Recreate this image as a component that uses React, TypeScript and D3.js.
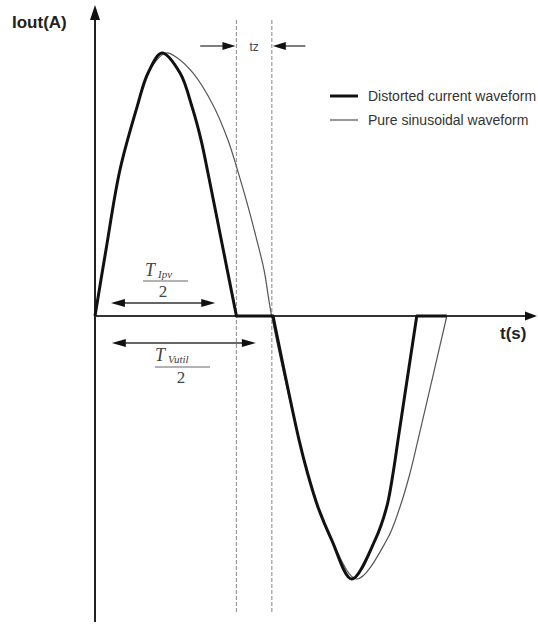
import React, { useRef, useEffect } from 'react';
import * as d3 from 'd3';

// time in ms, current normalised to the peak value
const posLobeT = [0, 0.62, 1.41, 2.38, 3.0, 3.79, 4.81, 5.49, 6.0, 6.39, 7.2, 8.0];
const posLobeI = [0, 0.251, 0.555, 0.795, 0.924, 1.0, 0.924, 0.795, 0.669, 0.544, 0.27, 0];
const negLobeT = [10.07, 11.54, 12.02, 12.61, 13.39, 14.52, 15.84, 16.5, 16.86, 17.14, 18.2];
const negLobeI = [0, -0.471, -0.597, -0.726, -0.852, -1.0, -0.852, -0.726, -0.597, -0.471, 0];
const deadZoneEnd = 19.9;

const sineT = [0, 0.62, 1.41, 2.38, 3.0, 4.02, 4.58, 5.54, 6.73, 7.52, 8.09, 8.6, 9.11, 9.56, 9.99,
    11.54, 12.02, 12.61, 13.39, 14.8, 16.5, 17.25, 17.82, 18.27, 19.9];
const sineI = [0, 0.251, 0.555, 0.795, 0.924, 1.0, 0.985, 0.924, 0.795, 0.669, 0.548, 0.43, 0.3, 0.175, 0,
    -0.471, -0.597, -0.726, -0.852, -1.0, -0.852, -0.726, -0.597, -0.471, 0];

const legendLabels = ['Distorted current waveform', 'Pure sinusoidal waveform'];

// annotation times (ms)
const tIpvHalf = 8.0;
const tVutilHalf = 10.0;
const ipvArrow = [0.9, 6.8];
const vutilArrow = [0.95, 9.1];
const tzArrowStarts = [5.95, 11.9];

const WaveformChart: React.FC = () => {
    const svgRef = useRef<SVGSVGElement | null>(null);
    const width = 538;
    const height = 634;

    useEffect(() => {
        if (!svgRef.current) return;
        const svg = d3.select(svgRef.current);
        svg.selectAll('*').remove();

        const x = d3.scaleLinear().domain([0, 25]).range([95, 537]);
        const y = d3.scaleLinear().domain([-1, 1]).range([579, 53]);

        const head = (tx: number, ty: number, dir: 'l' | 'r' | 'u', len = 12, hw = 4, fill = '#111') => {
            let pts: [number, number][];
            if (dir === 'r') pts = [[tx, ty], [tx - len, ty - hw], [tx - len, ty + hw]];
            else if (dir === 'l') pts = [[tx, ty], [tx + len, ty - hw], [tx + len, ty + hw]];
            else pts = [[tx, ty], [tx - hw, ty + len], [tx + hw, ty + len]];
            svg.append('polygon')
                .attr('points', pts.map((p) => p.join(',')).join(' '))
                .attr('fill', fill);
        };

        // dashed markers
        [tIpvHalf, tVutilHalf].forEach((t) => {
            svg.append('line')
                .attr('x1', x(t)).attr('x2', x(t))
                .attr('y1', 20).attr('y2', 614)
                .attr('stroke', '#999')
                .attr('stroke-width', 1.2)
                .attr('stroke-dasharray', '4,2');
        });

        // axes
        svg.append('line')
            .attr('x1', x(0)).attr('x2', x(0))
            .attr('y1', 622).attr('y2', 14)
            .attr('stroke', '#222').attr('stroke-width', 2);
        head(x(0), 5, 'u', 15, 5, '#111');
        svg.append('line')
            .attr('x1', x(0)).attr('x2', 528)
            .attr('y1', y(0)).attr('y2', y(0))
            .attr('stroke', '#333').attr('stroke-width', 2);
        head(537, y(0), 'r', 12, 4.5, '#111');

        const line = d3.line<[number, number]>()
            .x((d) => x(d[0]))
            .y((d) => y(d[1]))
            .curve(d3.curveCatmullRom.alpha(0.5));

        // pure sine
        const sinePts = sineT.map((t, i) => [t, sineI[i]] as [number, number]);
        svg.append('path')
            .attr('d', line(sinePts)!)
            .attr('fill', 'none')
            .attr('stroke', '#555')
            .attr('stroke-width', 1.2);

        // distorted: lobes joined by dead-zone flats
        const pos = posLobeT.map((t, i) => [t, posLobeI[i]] as [number, number]);
        const neg = negLobeT.map((t, i) => [t, negLobeI[i]] as [number, number]);
        const dPath = line(pos)! + 'L' + line(neg)!.slice(1) + `L${x(deadZoneEnd)},${y(0)}`;
        svg.append('path')
            .attr('d', dPath)
            .attr('fill', 'none')
            .attr('stroke', '#111')
            .attr('stroke-width', 3)
            .attr('stroke-linejoin', 'round');

        // tz arrows
        const tzY = 46;
        svg.append('line')
            .attr('x1', x(tzArrowStarts[0])).attr('x2', x(tIpvHalf) - 10)
            .attr('y1', tzY).attr('y2', tzY)
            .attr('stroke', '#555').attr('stroke-width', 1.5);
        head(x(tIpvHalf) - 1, tzY, 'r', 13, 4);
        svg.append('line')
            .attr('x1', x(tzArrowStarts[1])).attr('x2', x(tVutilHalf) + 10)
            .attr('y1', tzY).attr('y2', tzY)
            .attr('stroke', '#555').attr('stroke-width', 1.5);
        head(x(tVutilHalf) + 1, tzY, 'l', 13, 4);
        svg.append('text')
            .attr('x', (x(tIpvHalf) + x(tVutilHalf)) / 2)
            .attr('y', 51)
            .attr('text-anchor', 'middle')
            .attr('font-family', 'Liberation Sans, Arial, sans-serif')
            .attr('font-size', 12)
            .attr('fill', '#444')
            .text('tz');

        // double arrows
        const dbl = (a: number, b: number, yy: number) => {
            svg.append('line')
                .attr('x1', x(a) + 8).attr('x2', x(b) - 8)
                .attr('y1', yy).attr('y2', yy)
                .attr('stroke', '#333').attr('stroke-width', 1.5);
            head(x(a), yy, 'l', 14, 4);
            head(x(b), yy, 'r', 14, 4);
        };
        dbl(ipvArrow[0], ipvArrow[1], 303);
        dbl(vutilArrow[0], vutilArrow[1], 343);

        // fraction labels
        const frac = (tx: number, ty: number, sub: string, barX1: number, barX2: number, barY: number, twoX: number) => {
            const tt = svg.append('text')
                .attr('x', tx).attr('y', ty)
                .attr('font-family', 'Liberation Serif, Times New Roman, serif')
                .attr('font-style', 'italic')
                .attr('fill', '#444');
            tt.append('tspan').attr('font-size', 18).text('T');
            tt.append('tspan').attr('font-size', 11).attr('dx', 3).attr('dy', 2).text(sub);
            svg.append('line')
                .attr('x1', barX1).attr('x2', barX2)
                .attr('y1', barY).attr('y2', barY)
                .attr('stroke', '#666').attr('stroke-width', 1);
            svg.append('text')
                .attr('x', twoX).attr('y', barY + 16)
                .attr('text-anchor', 'middle')
                .attr('font-family', 'Liberation Serif, Times New Roman, serif')
                .attr('font-size', 17)
                .attr('fill', '#444')
                .text('2');
        };
        frac(145, 276, 'Ipv', 143, 188, 281, 163);
        frac(155, 361, 'Vutil', 155, 210, 367, 181);

        // axis titles
        svg.append('text')
            .attr('x', 12).attr('y', 28)
            .attr('font-family', 'Liberation Sans, Arial, sans-serif')
            .attr('font-weight', 'bold')
            .attr('font-size', 17)
            .attr('fill', '#222')
            .text('Iout(A)');
        svg.append('text')
            .attr('x', 500).attr('y', 339)
            .attr('font-family', 'Liberation Sans, Arial, sans-serif')
            .attr('font-weight', 'bold')
            .attr('font-size', 17)
            .attr('fill', '#222')
            .text('t(s)');

        // legend
        const legend = svg.append('g');
        legendLabels.forEach((lbl, i) => {
            const ly = 96 + i * 24;
            legend.append('line')
                .attr('x1', 330).attr('x2', 358)
                .attr('y1', ly).attr('y2', ly)
                .attr('stroke', i === 0 ? '#111' : '#555')
                .attr('stroke-width', i === 0 ? 3 : 1.2);
            legend.append('text')
                .attr('x', 368).attr('y', ly + 5)
                .attr('font-family', 'Liberation Sans, Arial, sans-serif')
                .attr('font-size', 14)
                .attr('fill', '#333')
                .text(lbl);
        });
    }, []);

    return (
        <svg
            ref={svgRef}
            width={width}
            height={height}
            style={{ position: 'absolute', left: 0, top: 0, background: '#fff' }}
            viewBox={`0 0 ${width} ${height}`}
        ></svg>
    );
};

export default function App() {
    return <WaveformChart />;
}
